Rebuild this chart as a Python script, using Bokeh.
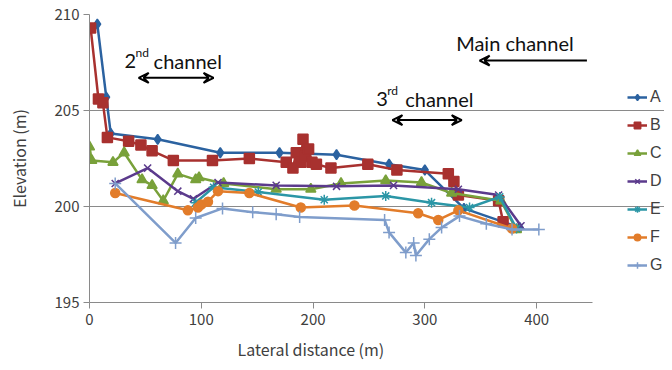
from bokeh.plotting import figure
from bokeh.models import Range1d, Legend, LegendItem, Arrow, VeeHead, Label, FixedTicker, Title
from bokeh.embed import file_html
from bokeh.resources import INLINE

# ---- data ----
A_x = [7, 15, 19, 61, 117, 170, 221, 268, 300, 335, 385]
A_y = [209.5, 205.7, 203.8, 203.5, 202.8, 202.8, 202.7, 202.2, 201.9, 199.9, 198.9]

B_x = [1, 8, 12, 16, 35, 46, 56, 75, 110, 143, 176, 182, 185, 189, 191, 193, 196, 199, 203, 216, 249, 275, 321, 326, 330, 366, 370]
B_y = [209.3, 205.6, 205.4, 203.6, 203.4, 203.2, 202.9, 202.4, 202.4, 202.5, 202.3, 202.0, 202.8, 202.3, 203.5, 202.6, 203.0, 202.3, 202.2, 202.0, 202.2, 201.9, 201.7, 201.3, 200.6, 200.3, 199.2]

C_x = [0, 2, 21, 31, 47, 56, 66, 79, 95, 98, 120, 167, 198, 225, 265, 297, 324, 368, 382]
C_y = [203.1, 202.4, 202.3, 202.8, 201.4, 201.1, 200.3, 201.7, 201.4, 201.5, 201.2, 200.9, 200.9, 201.2, 201.35, 201.25, 200.7, 200.3, 198.8]

D_x = [23, 52, 79, 93, 115, 167, 221, 272, 330, 366, 386]
D_y = [201.2, 202.0, 200.8, 200.4, 201.25, 201.1, 201.05, 201.1, 200.9, 200.6, 199.0]

E_x = [95, 111, 151, 210, 265, 306, 340, 367, 382]
E_y = [200.2, 201.0, 200.75, 200.35, 200.55, 200.2, 199.95, 200.5, 198.85]

F_x = [23, 88, 97, 100, 106, 115, 143, 189, 237, 294, 312, 330, 378]
F_y = [200.7, 199.8, 199.95, 200.1, 200.25, 200.8, 200.7, 199.95, 200.05, 199.65, 199.3, 199.8, 198.85]

G_x = [23, 77, 95, 119, 146, 167, 188, 264, 268, 283, 290, 292, 304, 315, 331, 355, 378, 402]
G_y = [201.2, 198.1, 199.4, 199.9, 199.7, 199.6, 199.45, 199.3, 198.65, 197.6, 198.1, 197.45, 198.3, 198.9, 199.5, 199.1, 198.8, 198.8]

series_names = ["A", "B", "C", "D", "E", "F", "G"]
x_ticks = [0, 100, 200, 300, 400]
y_ticks = [195, 200, 205, 210]

series = [
    ("A", A_x, A_y, "#2b62a0", "diamond", 10),
    ("B", B_x, B_y, "#a8312f", "square", 10),
    ("C", C_x, C_y, "#79a13a", "triangle", 10),
    ("D", D_x, D_y, "#5b3a8c", "x", 10),
    ("E", E_x, E_y, "#2b96a6", "asterisk", 10),
    ("F", F_x, F_y, "#e27c2a", "circle", 9),
    ("G", G_x, G_y, "#7f9dcb", "cross", 12),
]

# frame spans to the right edge so the legend can sit inside it;
# axis and grid are bounded to 0..450
p = figure(width=664, height=370, output_backend="svg", toolbar_location=None,
           x_range=Range1d(0, 514.4), y_range=Range1d(195, 210),
           min_border_left=89, min_border_right=0, min_border_top=14, min_border_bottom=68)
p.outline_line_color = None
p.background_fill_color = "white"

tick_font = "Noto Sans CJK JP"
p.xaxis.ticker = FixedTicker(ticks=x_ticks)
p.yaxis.ticker = FixedTicker(ticks=y_ticks)
p.xaxis.bounds = (0, 450)
for ax in (p.xaxis[0], p.yaxis[0]):
    ax.axis_line_color = "#8a8a8a"
    ax.major_tick_line_color = "#8a8a8a"
    ax.minor_tick_line_color = None
    ax.major_tick_in = 0
    ax.major_tick_out = 6
    ax.major_label_text_font = tick_font
    ax.major_label_text_font_size = "15px"
    ax.major_label_text_color = "#404040"
    ax.axis_label_text_font = tick_font
    ax.axis_label_text_font_size = "16px"
    ax.axis_label_text_font_style = "normal"
    ax.axis_label_text_color = "#404040"
p.yaxis.axis_label = "Elevation (m)"
p.xaxis.major_label_standoff = 5
p.yaxis.major_label_standoff = 4
p.yaxis.axis_label_standoff = 21

# x-axis title, aligned under the 0..450 axis span
p.add_layout(Title(text="Lateral distance (m)", align="left", offset=148, standoff=14,
                   text_font=tick_font, text_font_size="16px", text_font_style="normal",
                   text_color="#404040"), "below")

p.xgrid.grid_line_color = None
p.ygrid.ticker = FixedTicker(ticks=[200, 205, 210])
p.ygrid.bounds = (0, 450)
p.ygrid.grid_line_color = "#8a8a8a"
p.ygrid.grid_line_width = 1.2

items = []
for name, xs, ys, col, mk, sz in series:
    r1 = p.line(xs, ys, line_color=col, line_width=2.5)
    r2 = p.scatter(xs, ys, marker=mk, size=sz, fill_color=col, line_color=col, line_width=1.5)
    items.append(LegendItem(label=name, renderers=[r1, r2]))

legend = Legend(items=items, location=(538, 28), border_line_color=None,
                background_fill_alpha=0, label_text_font="Liberation Sans",
                label_text_font_size="16px", label_text_color="#404040",
                glyph_width=20, glyph_height=16, spacing=10, label_standoff=3,
                padding=0, margin=0)
p.add_layout(legend, "center")

# ---- annotations ----
ann_font = "Lato"
FS = "20px"
LIFT = 10

def arrow(x0, x1, y, both=True):
    head = lambda: VeeHead(size=10, line_width=2, line_color="black", fill_color=None)
    p.add_layout(Arrow(x_start=x0, y_start=y, x_end=x1, y_end=y,
                       line_width=2, line_color="black",
                       end=head(), start=head() if both else None))

def sup_label(x, y, base, sup, rest):
    p.add_layout(Label(x=x, y=y, y_offset=LIFT, text=base, text_font=ann_font, text_font_size=FS,
                       text_color="#111", text_baseline="alphabetic"))
    p.add_layout(Label(x=x, y=y, x_offset=11, y_offset=LIFT + 8, text=sup, text_font=ann_font,
                       text_font_size="12px", text_color="#111", text_baseline="alphabetic"))
    p.add_layout(Label(x=x, y=y, x_offset=29, y_offset=LIFT, text=rest, text_font=ann_font,
                       text_font_size=FS, text_color="#111", text_baseline="alphabetic"))

sup_label(31.4, 207.08, "2", "nd", "channel")
arrow(44, 111, 206.7)
sup_label(256.5, 205.1, "3", "rd", "channel")
arrow(271, 333, 204.5)
p.add_layout(Label(x=328, y=207.97, y_offset=LIFT, text="Main channel", text_font=ann_font,
                   text_font_size=FS, text_color="#111", text_baseline="alphabetic"))
arrow(445, 349, 207.6, both=False)

open("out.html", "w").write(file_html(p, INLINE))
